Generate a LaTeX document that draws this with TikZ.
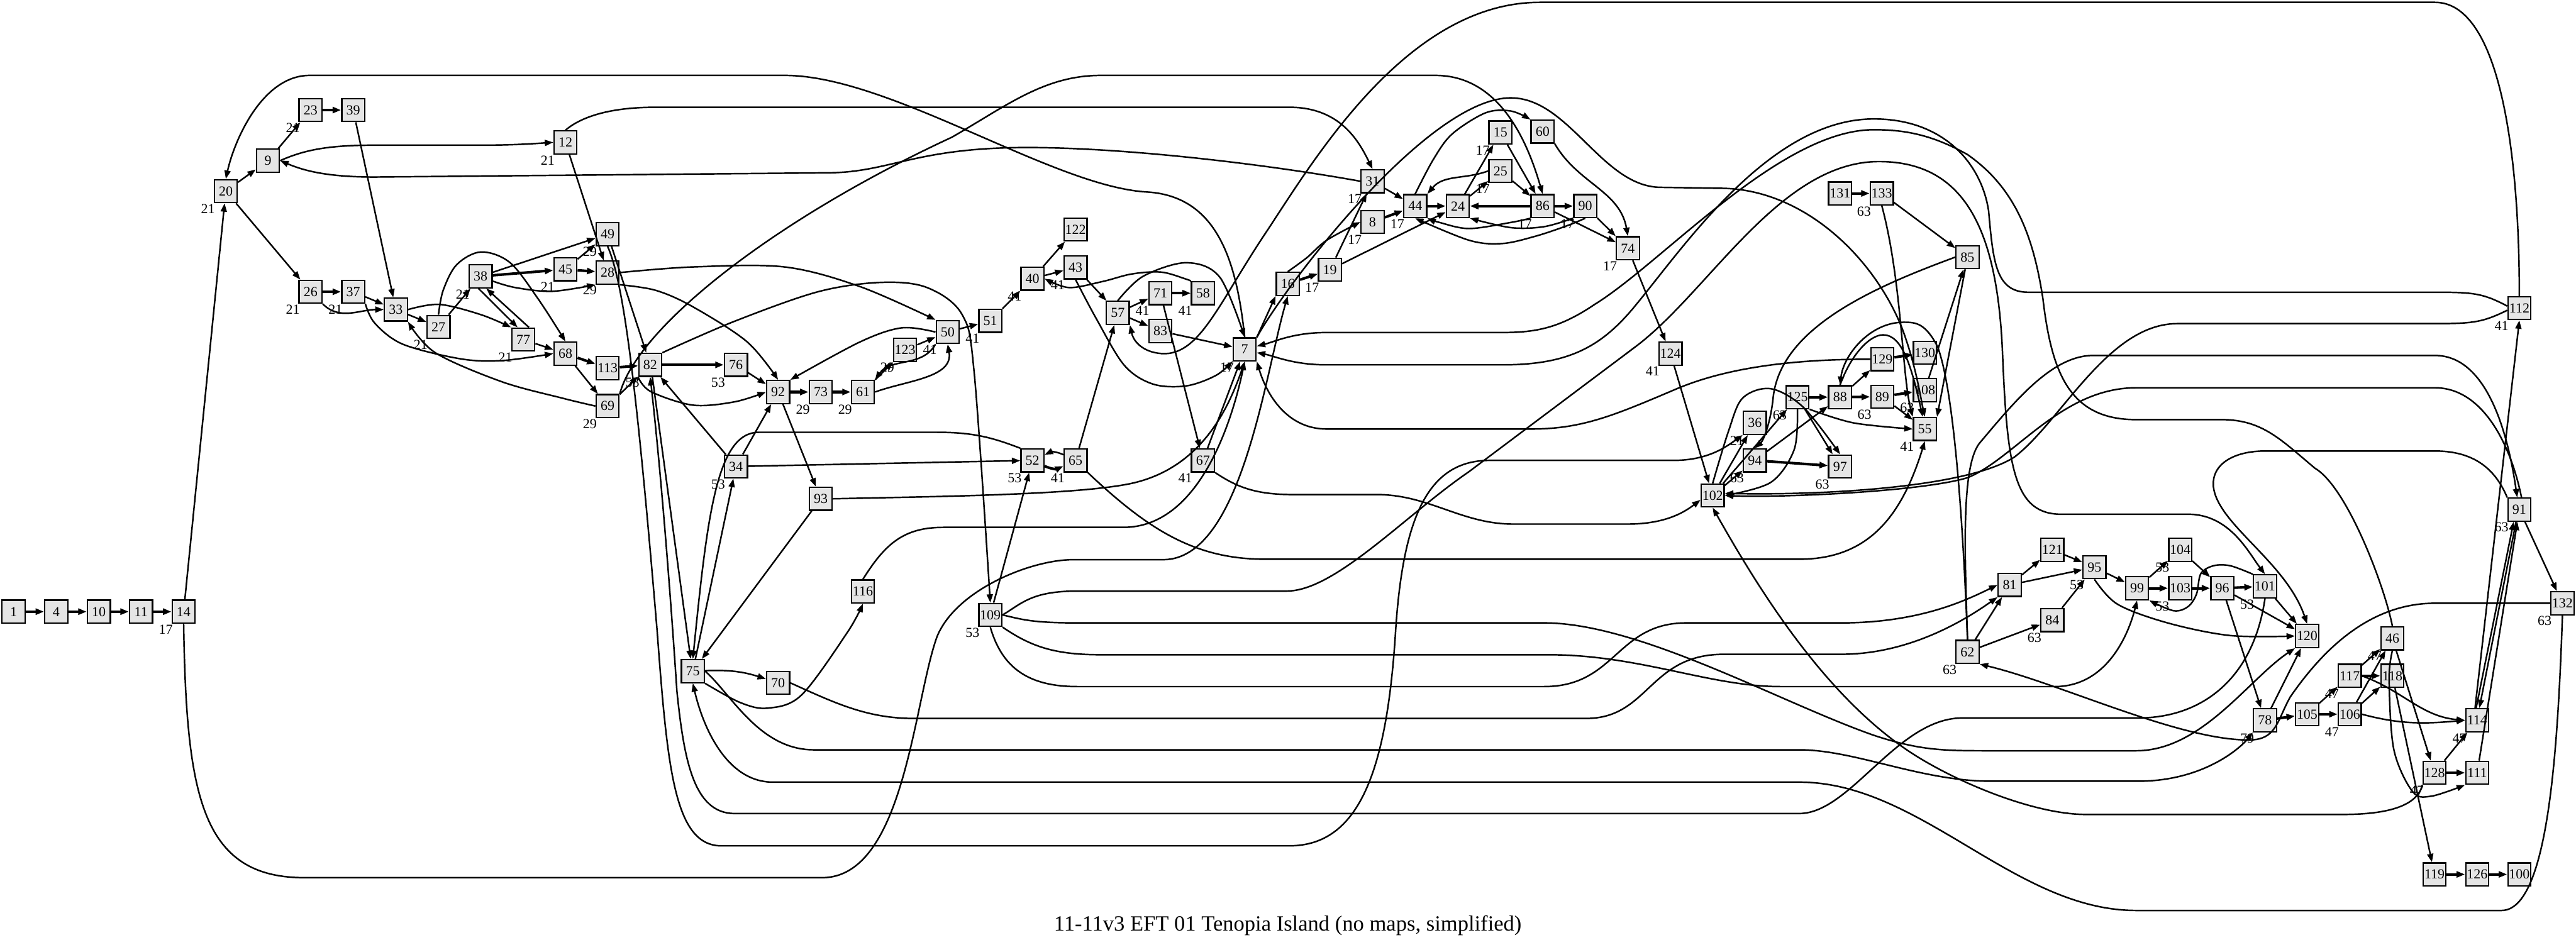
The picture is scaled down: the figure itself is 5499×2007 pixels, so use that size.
\documentclass[tikz,border=0pt]{standalone}
\usepackage{fontspec}
\setmainfont{Liberation Serif}
\usetikzlibrary{arrows.meta}
\begin{document}
\begin{tikzpicture}[x=0.1mm,y=-0.1mm,
 nd/.style={draw,line width=0.3mm,fill=black!10,minimum width=4.9mm,minimum height=4.9mm,inner sep=0pt,font=\fontsize{8.4}{9}\selectfont},
 xl/.style={inner sep=0pt,font=\fontsize{8.4}{9}\selectfont},
 e/.style={line width=0.33mm,-{Triangle[length=1.8mm,width=1.3mm]}},
 te/.style={e,line width=0.55mm},
 sm/.style={smooth,tension=0.55}]
\useasboundingbox (0,0) rectangle (5499,2007);
% nodes
\foreach \n/\x/\y in {1/29/1306,4/120/1306,10/211/1306,11/301/1306,14/392/1306,20/482/408,9/572/343,23/663/235,39/754/235,12/1207/304,26/663/623,37/754/623,33/845/661,27/936/698,38/1026/590,77/1117/725,45/1207/575,49/1297/500,28/1297/582,68/1207/755,113/1297/786,82/1388/779,69/1297/867,76/1571/779,92/1661/837,73/1752/837,61/1842/837,123/1932/747,50/2023/709,51/2114/685,40/2204/595,122/2296/490,43/2296/571,57/2386/668,71/2477/626,58/2568/626,83/2477/707,7/2657/746,34/1571/996,52/2204/983,65/2296/983,67/2568/983,93/1752/1065,116/1842/1263,109/2114/1313,75/1479/1433,70/1661/1458,31/2930/387,44/3021/440,8/2930/474,24/3112/440,15/3203/283,25/3203/365,60/3293/281,86/3293/440,90/3384/440,74/3475/530,16/2749/606,19/2839/576,131/3928/413,133/4017/413,124/3566/755,125/3837/848,88/3928/848,36/3746/903,94/3746/983,97/3928/996,102/3656/1058,85/4200/549,129/4018/767,130/4109/753,108/4109/833,89/4018/847,55/4109/916,121/4381/1174,95/4471/1211,81/4290/1249,84/4381/1324,62/4200/1392,104/4654/1174,99/4562/1256,103/4654/1256,96/4744/1256,101/4835/1252,120/4925/1358,78/4835/1538,105/4925/1525,91/5378/1088,132/5470/1288,46/5107/1363,117/5016/1443,118/5107/1443,106/5016/1525,114/5288/1538,128/5197/1650,111/5288/1650,119/5197/1867,126/5288/1867,100/5378/1867,112/5378/658}
 {\node[nd] (n\n) at (\x,\y) {\n};}
% external labels
\foreach \t/\x/\y [count=\i] in {21/444/446,21/625/273,21/1169/342,21/625/661,21/716/661,21/898/736,21/988/628,21/1169/613,29/1259/538,29/1259/620,21/1079/763,29/1259/905,17/354/1344,53/1350/817,53/1533/817,29/1714/875,29/1804/875,29/1894/785,41/1985/747,41/2076/723,41/2166/633,41/2258/609,41/2439/664,41/2530/664,17/2619/784,53/1533/1034,53/2166/1021,41/2258/1021,41/2530/1021,53/2076/1351,17/2892/425,17/2983/478,17/2892/512,17/3165/321,17/3165/403,17/3255/478,17/3346/478,17/3437/568,17/2801/614,63/3979/451,41/3528/793,63/3799/886,63/3980/885,63/4071/871,41/4071/954,21/3708/941,63/3708/1021,63/3890/1034,63/4162/1430,63/4343/1362,53/4433/1249,53/4616/1294,53/4616/1212,53/4797/1290,79/4797/1576,47/4978/1563,47/4978/1481,47/5069/1401,47/5250/1576,47/5159/1688,63/5340/1126,63/5432/1326,41/5340/696}
 {\node[xl] (lab\i) at (\x,\y) {\t};}
\node[inner sep=0pt,anchor=base,font=\fontsize{13.2}{15}\selectfont] (title) at (2749,1987) {11-11v3 EFT 01 Tenopia Island (no maps, simplified)};
% ---- left part
\draw[te] (n1)--(n4); \draw[te] (n4)--(n10); \draw[te] (n10)--(n11); \draw[te] (n11)--(n14);
\draw[e] (n14)--(n20);
\draw[e] (n14.south) .. controls (398,1700) and (430,1874) .. (650,1874) -- (1755,1874) .. controls (1930,1874) and (1950,1500) .. (2000,1360) .. controls (2040,1260) and (2200,1195) .. (2291,1195) -- (2483,1195) .. controls (2650,1195) and (2700,800) .. (n16.south);
\draw[e] (n7.north east)--(n16.south west);
\draw[e] (n20)--(n9); \draw[e] (n20)--(n26); \draw[e] (n9)--(n23);
\draw[e] (n9.east) .. controls (650,320) and (700,310) .. (800,310) -- (1027,310) .. controls (1100,310) and (1150,306) .. (n12.west);
\draw[te] (n23)--(n39); \draw[e] (n39)--(n33);
\draw[te] (n26)--(n37); \draw[e] (n37)--(n33);
\draw[e] (n26.south east) to[out=-45,in=180] (n33.west);
\draw[e] plot[sm] coordinates {(n37.south east) (800,690) (860,735) (982,766) (1071,770) (n68.west)};
\draw[e] (n33)--(n27);
\draw[e] plot[sm] coordinates {(n33.east) (938,650) (1027,672) (n77.north west)};
\draw[e] (n27)--(n38);
\draw[e] plot[sm] coordinates {(n27.north) (946,620) (975,565) (1027,538) (1089,561) (1150,640) (n68.north)};
\draw[e] (n38)--(n49); \draw[te] (n38)--(n45);
\draw[e] plot[sm] coordinates {(1051,600) (1100,614) (1179,622) (n28.south west)};
\draw[e] (n38.-100) -- (n77.115);
\draw[e] (n77.65) -- (n38.-65);
\draw[e] (n45)--(n49); \draw[te] (n45)--(n28); \draw[e] (n12)--(n28); \draw[e] (n49)--(n82);
\draw[e] (n77)--(n68); \draw[te] (n68)--(n113); \draw[te] (n113)--(n82); \draw[e] (n68)--(n69);
\draw[e] plot[sm] coordinates {(n69.west) (1200,850) (1071,815) (929,753) (n33.south east)};
\draw[e] (n69)--(n82);
\draw[e] (n7.north) .. controls (2640,560) and (2600,420) .. (2450,410) .. controls (2250,400) and (1900,161) .. (1675,161) -- (661,161) .. controls (560,161) and (500,300) .. (n20.north);
\draw[e] (n12.north) .. controls (1240,250) and (1300,229) .. (1400,229) -- (2752,229) .. controls (2860,229) and (2900,300) .. (n31.north);
\draw[e] (n31.west) .. controls (2700,350) and (2400,315) .. (2193,315) .. controls (1950,315) and (1900,369) .. (1764,369) -- (800,378) .. controls (700,378) and (650,365) .. (n9.east);
\draw[e] (n69.north east) .. controls (1360,700) and (1650,470) .. (2032,293) .. controls (2150,225) and (2230,161) .. (2350,161) -- (3064,161) .. controls (3200,161) and (3260,300) .. (n86.north);
% ---- centre
\draw[e] plot[sm] coordinates {(n28.east) (1479,570) (1675,570) (1836,612) (n50.north west)};
\draw[e] plot[sm] coordinates {(n28.south east) (1400,620) (1479,655) (1595,730) (n92.north)};
\draw[te] (n82)--(n76); \draw[e] (n76)--(n92); \draw[te] (n92)--(n73); \draw[te] (n73)--(n61);
\draw[e] (n61)--(n123); \draw[e] (n123)--(n50);
\draw[e] (n61.east) to[out=20,in=-80] (n50.south);
\draw[e] (n50.south west) to[out=-120,in=55] (n61.north east);
\draw[e] plot[sm] coordinates {(n50.west) (1925,700) (1836,730) (n92.north east)};
\draw[e] (n50)--(n51); \draw[e] (n51)--(n40); \draw[e] (n40)--(n122); \draw[e] (n40)--(n43); \draw[e] (n43)--(n57);
\draw[e] plot[sm] coordinates {(n58.north west) (2532,596) (2479,581) (2416,585) (2354,601) (2282,614) (n40.east)};
\draw[e] (n57)--(n71); \draw[te] (n71)--(n58); \draw[e] (n57)--(n83); \draw[e] (n83)--(n7);
\draw[e] plot[sm] coordinates {(n43.south) (2340,680) (2400,780) (2461,820) (2532,824) (2595,802) (n7.south west)};
\draw[e] plot[sm] coordinates {(n57.north) (2440,590) (2532,561) (2604,592) (n7.north)};
\draw[e] (n112.north) .. controls (5378,300) and (5330,5) .. (5198,5) -- (3287,5) .. controls (3000,5) and (2800,350) .. (2700,500) .. controls (2600,650) and (2560,760) .. (2480,755) .. controls (2440,752) and (2420,730) .. (n57.south east);
\draw[e] (n65)--(n57);
\draw[te] (n52.-25) to[bend right=25] (n65.-155);
\draw[e] (n65.155) to[bend right=25] (n52.25);
\draw[e] (n34)--(n52); \draw[e] (n109)--(n52); \draw[e] (n34)--(n92); \draw[e] (n75)--(n34); \draw[e] (n34)--(n82);
\draw[e] (n92)--(n93); \draw[e] (n93)--(n75);
\draw[e] (n52.north west) .. controls (2120,935) and (2080,923) .. (2000,923) -- (1620,923) .. controls (1530,923) and (1510,1100) .. (n75.north);
\draw[e] (n93.east) .. controls (2000,1060) and (2300,1057) .. (2416,1032) .. controls (2560,1000) and (2620,880) .. (n7.south);
\draw[e] (n116.north) .. controls (1890,1160) and (1930,1126) .. (2014,1126) -- (2398,1126) .. controls (2560,1126) and (2630,900) .. (n7.south);
\draw[e] (n75) to[bend left=10] (n70);
\draw[e] plot[sm] coordinates {(n75.south east) (1580,1500) (1639,1512) (1711,1484) (1809,1350) (n116.south)};
\draw[e] plot[sm] coordinates {(n82.north east) (1568,686) (1746,623) (1880,603) (1979,614) (2054,672) (2080,800) (n109.north)};
\draw[e] (n82.-80) -- (n75.100);
\draw[e] plot[sm] coordinates {(n82.south west) (1389,836) (1479,865) (1568,858) (n92.west)};
\draw[e] (n71)--(n67);
\draw[e] (n67)--(n7);
% ---- long lanes
\draw[e] (n109.east) .. controls (2180,1290) and (2200,1262) .. (2300,1262) -- (2747,1262) .. controls (2850,1262) and (3000,1100) .. (3136,1007) -- (3493,739) .. controls (3650,620) and (3800,345) .. (4011,345) .. controls (4200,345) and (4265,500) .. (4275,760) .. controls (4285,1000) and (4300,1098) .. (4400,1098) -- (4671,1098) .. controls (4760,1098) and (4800,1180) .. (n101.north);
\draw[e] (n109.east) .. controls (2180,1322) and (2200,1330) .. (2300,1330) -- (3296,1330) .. controls (3500,1330) and (3800,1500) .. (4000,1570) .. controls (4100,1603) and (4150,1603) .. (4250,1603) -- (4560,1603) .. controls (4700,1603) and (4800,1450) .. (n120.south west);
\draw[e] (n109.south east) .. controls (2200,1380) and (2250,1398) .. (2350,1398) -- (3305,1398) .. controls (3500,1398) and (3650,1466) .. (3800,1466) -- (4386,1466) .. controls (4500,1466) and (4545,1350) .. (n99.south);
\draw[e] (n109.south) .. controls (2140,1430) and (2200,1466) .. (2300,1466) -- (3296,1466) .. controls (3450,1466) and (3450,1330) .. (3600,1330) -- (3930,1330) .. controls (4100,1330) and (4200,1280) .. (n81.west);
\draw[e] (n70.east) .. controls (1780,1500) and (1850,1534) .. (1950,1534) -- (3386,1534) .. controls (3520,1534) and (3520,1397) .. (3680,1397) -- (3930,1397) .. controls (4080,1397) and (4200,1320) .. (n81.south west);
\draw[e] (n75.east) .. controls (1560,1480) and (1620,1601) .. (1737,1601) -- (3841,1601) .. controls (3960,1601) and (4100,1668) .. (4250,1668) -- (4564,1668) .. controls (4700,1668) and (4780,1600) .. (n78.south west);
\draw[e] (n132.south) .. controls (5460,1600) and (5440,1944) .. (5340,1944) -- (4560,1944) .. controls (4300,1944) and (4100,1670) .. (3841,1670) -- (1650,1670) .. controls (1550,1670) and (1500,1550) .. (n75.south);
\draw[e] (n101.south) .. controls (4810,1450) and (4700,1533) .. (4564,1533) -- (4189,1533) .. controls (4050,1533) and (3950,1737) .. (3841,1737) -- (1568,1737) .. controls (1480,1737) and (1460,1620) .. (1445,1476) .. controls (1430,1250) and (1410,1000) .. (n82.south);
\draw[e] (n49.south) .. controls (1330,600) and (1357,800) .. (1403,1350) .. controls (1425,1643) and (1440,1806) .. (1540,1806) -- (2752,1806) .. controls (2900,1806) and (2960,1650) .. (2979,1350) .. controls (2995,1100) and (3050,983) .. (3180,983) -- (3573,983) .. controls (3650,983) and (3690,950) .. (n36.south west);
\draw[e] (n65.south east) .. controls (2450,1130) and (2550,1194) .. (2700,1194) -- (3841,1194) .. controls (3990,1194) and (4060,1100) .. (n55.south);
\draw[e] (n67.south east) .. controls (2640,1040) and (2680,1056) .. (2760,1056) -- (2939,1056) .. controls (3050,1056) and (3120,1119) .. (3230,1119) -- (3475,1119) .. controls (3560,1119) and (3600,1090) .. (n102.-160);
\draw[e] (n129.west) .. controls (3850,767) and (3700,780) .. (3582,829) .. controls (3450,885) and (3380,916) .. (3270,916) -- (2832,916) .. controls (2740,916) and (2700,830) .. (n7.south east);
\draw[e] (n128.south west) .. controls (5160,1720) and (5100,1739) .. (5000,1739) -- (4453,1739) .. controls (4350,1739) and (4200,1680) .. (4100,1620) .. controls (3900,1500) and (3750,1250) .. (n102.south);
\draw[e] (n132.west) -- (5198,1288) .. controls (5050,1288) and (4950,1400) .. (4889,1488) .. controls (4860,1540) and (4860,1580) .. (4800,1580) .. controls (4650,1580) and (4400,1460) .. (n62.south east);
\draw[e] (n7.north east) .. controls (2750,600) and (3050,209) .. (3225,209) .. controls (3350,209) and (3420,400) .. (3546,400) -- (3671,402) .. controls (3850,402) and (4000,550) .. (4060,700) .. controls (4090,780) and (4100,850) .. (n55.north);
\draw[e] (n112.170) .. controls (5300,626) and (5280,624) .. (5198,624) -- (4330,624) .. controls (4260,624) and (4255,560) .. (4245,450) .. controls (4230,350) and (4150,254) .. (4000,254) .. controls (3780,254) and (3600,520) .. (3493,650) .. controls (3420,740) and (3350,779) .. (3207,779) -- (2832,779) .. controls (2760,779) and (2720,760) .. (n7.-15);
\draw[e] (n112.-170) .. controls (5300,688) and (5280,691) .. (5198,691) -- (4648,691) .. controls (4500,691) and (4400,900) .. (4300,976) .. controls (4200,1040) and (3900,1058) .. (n102.10);
\draw[e] (n46.north) .. controls (5090,1250) and (5010,1040) .. (4942,1000) .. controls (4870,940) and (4830,896) .. (4743,896) -- (4560,896) .. controls (4420,896) and (4380,800) .. (4361,638) .. controls (4340,500) and (4300,400) .. (4200,330) .. controls (4120,285) and (4060,277) .. (4000,277) .. controls (3800,277) and (3550,560) .. (3404,650) .. controls (3330,700) and (3280,710) .. (3207,710) -- (2832,710) .. controls (2760,710) and (2720,730) .. (n7.15);
\draw[e] (n62.north) .. controls (4195,1200) and (4185,1000) .. (4225,947) .. controls (4300,858) and (4380,759) .. (4468,759) -- (5198,759) .. controls (5300,759) and (5350,900) .. (n91.100);
\draw[e] (n91.80) .. controls (5360,950) and (5300,828) .. (5198,828) -- (4560,828) .. controls (4400,828) and (4300,980) .. (4200,1020) .. controls (4100,1050) and (3800,1063) .. (n102.east);
\draw[e] (n91.north west) .. controls (5330,1010) and (5290,963) .. (5198,963) -- (4835,963) .. controls (4770,963) and (4720,990) .. (4725,1040) .. controls (4735,1120) and (4880,1200) .. (n120.north);
\draw[e] (n62.north) .. controls (4190,1100) and (4170,830) .. (4136,740) .. controls (4110,690) and (4090,688) .. (4064,688) .. controls (3990,688) and (3935,760) .. (n88.north);
% ---- top middle cluster
\draw[te] (n16)--(n19);
\draw[e] plot[sm] coordinates {(n16.north) (2790,550) (2832,513) (n8.west)};
\draw[e] (n19)--(n31); \draw[e] (n19)--(n24);
\draw[e] (n31)--(n44); \draw[te] (n8)--(n44); \draw[te] (n44)--(n24);
\draw[e] (n24)--(n15); \draw[e] (n24)--(n25);
\draw[e] (n25.west) to[out=200,in=50] (n44.north east);
\draw[e] (n15)--(n86); \draw[e] (n25)--(n86);
\draw[e] plot[sm] coordinates {(n44.north) (3060,340) (3100,286) (3171,241) (3225,237) (n60.north west)};
\draw[te] (n86)--(n24); \draw[te] (n86)--(n90);
\draw[e] (n86)--(n74); \draw[e] (n90)--(n74);
\draw[e] (n60.south east) to[out=-60,in=100] (n74.north);
\draw[e] plot[sm] coordinates {(n86.south west) (3225,475) (3136,488) (3073,475) (n44.south east)};
\draw[e] plot[sm] coordinates {(n90.south west) (3296,484) (3225,486) (n24.south east)};
\draw[e] plot[sm] coordinates {(n90.south) (3345,482) (3279,504) (3207,520) (3136,513) (n44.south)};
\draw[e] (n74)--(n124); \draw[e] (n124)--(n102);
% ---- right upper cluster
\draw[te] (n131)--(n133); \draw[e] (n133)--(n85);
\draw[e] (n133.south) .. controls (4060,600) and (4060,800) .. (n55.north west);
\draw[te] (n125)--(n88); \draw[te] (n88)--(n89); \draw[e] (n88)--(n129); \draw[te] (n129)--(n130);
\draw[te] (n89)--(n108); \draw[e] (n89)--(n55); \draw[e] (n108)--(n85); \draw[e] (n85)--(n55.north east);
\draw[e] (n88.north) .. controls (3950,760) and (3990,715) .. (4020,715) .. controls (4060,715) and (4080,780) .. (n55.100);
\draw[e] plot[sm] coordinates {(n125.south east) (3957,903) (n55.west)};
\draw[e] (n85.west) .. controls (4000,613) and (3800,700) .. (3785,850) .. controls (3780,900) and (3765,940) .. (n94.north);
\draw[e] (n94)--(n88); \draw[e] (n125)--(n97); \draw[te] (n94)--(n97);
\draw[e] (n102)--(n36); \draw[e] (n102)--(n94); \draw[e] (n102)--(n125);
\draw[e] plot[sm] coordinates {(n125.south) (3830,960) (3780,1030) (n102.east)};
\draw[e] plot[sm] coordinates {(n102.north) (3690,920) (3720,850) (3780,830) (3850,870) (n97.north)};
% ---- right lower cluster
\draw[e] (n62)--(n81); \draw[e] (n81)--(n121); \draw[e] (n81)--(n95); \draw[e] (n121)--(n95);
\draw[e] (n62)--(n84); \draw[e] (n84)--(n95); \draw[e] (n95)--(n99); \draw[e] (n99)--(n104);
\draw[te] (n99)--(n103); \draw[te] (n103)--(n96); \draw[e] (n104)--(n96); \draw[te] (n96)--(n101);
\draw[e] plot[sm] coordinates {(n101.north west) (4761,1208) (4725,1208) (4698,1225) (4689,1268) (4671,1295) (4640,1304) (n99.south east)};
\draw[e] (n96)--(n120); \draw[e] (n101)--(n120); \draw[e] (n96)--(n78); \draw[e] (n78)--(n120); \draw[te] (n78)--(n105);
\draw[e] plot[sm] coordinates {(n95.south) (4520,1290) (4627,1330) (4761,1357) (n120.west)};
\draw[e] (n105)--(n117); \draw[te] (n105)--(n106); \draw[te] (n117)--(n118);
\draw[e] (n117)--(n46); \draw[e] (n106)--(n46); \draw[e] (n106)--(n118);
\draw[e] (n117.east) to[out=-20,in=175] (n114.west);
\draw[e] (n106.east) to[out=-15,in=185] (n114.west);
\draw[e] (n118)--(n119); \draw[te] (n119)--(n126); \draw[te] (n126)--(n100);
\draw[e] (n46)--(n128); \draw[e] (n128)--(n114); \draw[te] (n128)--(n111);
\draw[e] plot[sm] coordinates {(n46.south) (5100,1450) (5110,1600) (5150,1690) (5190,1700) (n111.south west)};
\draw[e] (n111)--(n91); \draw[e] (n91.-105)--(n114.80); \draw[e] (n114.95)--(n91.-115);
\draw[e] (n91)--(n132);
\draw[e] (n114.100) -- (n112.south);
\end{tikzpicture}
\end{document}
